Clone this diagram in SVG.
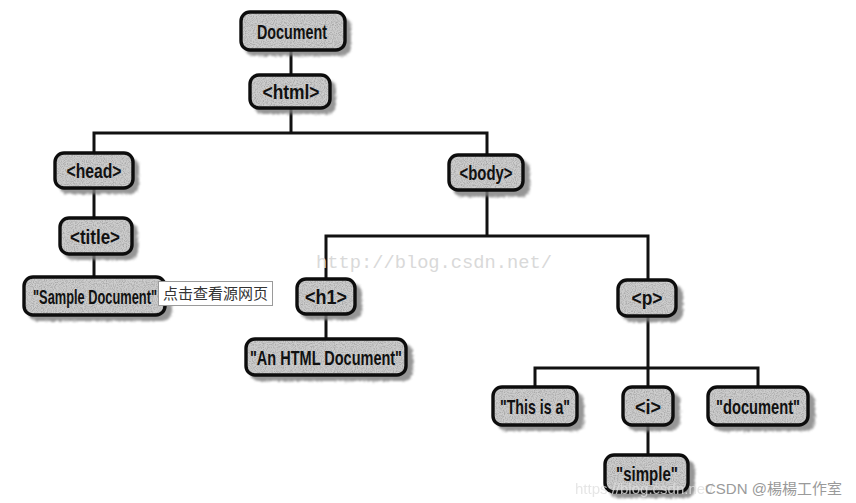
<svg xmlns="http://www.w3.org/2000/svg" width="856" height="503" viewBox="0 0 856 503">
<defs>
<filter id="fuzz" x="-20%" y="-30%" width="140%" height="160%">
<feTurbulence type="fractalNoise" baseFrequency="0.9" numOctaves="2" seed="3" result="n"/>
<feDisplacementMap in="SourceGraphic" in2="n" scale="5" xChannelSelector="R" yChannelSelector="G" result="d"/>
<feGaussianBlur in="d" stdDeviation="0.8"/>
</filter>
<filter id="grain" x="0" y="0" width="100%" height="100%">
<feTurbulence type="fractalNoise" baseFrequency="0.9" numOctaves="2" seed="7" result="n"/>
<feColorMatrix in="n" type="matrix" values="0 0 0 0 0.4  0 0 0 0 0.4  0 0 0 0 0.4  0 0 0 2.6 -1.0" result="g"/>
<feComposite in="g" in2="SourceGraphic" operator="in" result="gc"/>
<feMerge><feMergeNode in="SourceGraphic"/><feMergeNode in="gc"/></feMerge>
</filter>
</defs>
<style>
.sh{fill:#7d7d7d;filter:url(#fuzz);opacity:0.8}
.fl{fill:#cdcdcd;filter:url(#grain)}
.bx{fill:none;stroke:#0d0d0d;stroke-width:3.4}
.t{font-family:"Liberation Sans",Arial,sans-serif;font-weight:bold;font-size:21px;fill:#111;text-anchor:middle}
.c{stroke:#111;stroke-width:3;fill:none}
</style>
<rect width="856" height="503" fill="#fff"/>

<g id="connectors">
<line class="c" x1="291" y1="50" x2="291" y2="75"/>
<polyline class="c" points="94,153 94,133 487,133 487,155"/>
<line class="c" x1="291" y1="108" x2="291" y2="133"/>
<line class="c" x1="94" y1="188" x2="94" y2="218"/>
<line class="c" x1="94" y1="254" x2="94" y2="277"/>
<line class="c" x1="487" y1="190" x2="487" y2="236"/>
<polyline class="c" points="326,279 326,236 648,236 648,280"/>
<line class="c" x1="326" y1="314" x2="326" y2="339"/>
<line class="c" x1="648" y1="316" x2="648" y2="387"/>
<polyline class="c" points="535,387 535,368 758,368 758,387"/>
<line class="c" x1="648" y1="425" x2="648" y2="455"/>
</g>

<g id="n-document">
<rect class="sh" x="245" y="17" width="106" height="39" rx="9"/>
<rect class="fl" x="241" y="12" width="104" height="38" rx="9"/>
<rect class="bx" x="241" y="12" width="104" height="38" rx="9"/>
<text class="t" x="292" y="38.5" textLength="70" lengthAdjust="spacingAndGlyphs">Document</text>
</g>
<g id="n-html">
<rect class="sh" x="254" y="80" width="82" height="34" rx="9"/>
<rect class="fl" x="250" y="75" width="80" height="33" rx="9"/>
<rect class="bx" x="250" y="75" width="80" height="33" rx="9"/>
<text class="t" x="291" y="99" textLength="57" lengthAdjust="spacingAndGlyphs">&lt;html&gt;</text>
</g>
<g id="n-head">
<rect class="sh" x="59" y="158" width="80" height="36" rx="9"/>
<rect class="fl" x="55" y="153" width="78" height="35" rx="9"/>
<rect class="bx" x="55" y="153" width="78" height="35" rx="9"/>
<text class="t" x="94" y="178" textLength="55" lengthAdjust="spacingAndGlyphs">&lt;head&gt;</text>
</g>
<g id="n-title">
<rect class="sh" x="64" y="223" width="74" height="37" rx="9"/>
<rect class="fl" x="60" y="218" width="72" height="36" rx="9"/>
<rect class="bx" x="60" y="218" width="72" height="36" rx="9"/>
<text class="t" x="95" y="243.5" textLength="50" lengthAdjust="spacingAndGlyphs">&lt;title&gt;</text>
</g>
<g id="n-sample">
<rect class="sh" x="28" y="282" width="144" height="39" rx="9"/>
<rect class="fl" x="24" y="277" width="141" height="38" rx="9"/>
<rect class="bx" x="24" y="277" width="141" height="38" rx="9"/>
<text class="t" x="95" y="303.5" textLength="124" lengthAdjust="spacingAndGlyphs">"Sample Document"</text>
</g>
<g id="n-body">
<rect class="sh" x="453" y="160" width="77" height="37" rx="9"/>
<rect class="fl" x="449" y="155" width="74" height="35" rx="9"/>
<rect class="bx" x="449" y="155" width="74" height="35" rx="9"/>
<text class="t" x="486" y="180" textLength="53" lengthAdjust="spacingAndGlyphs">&lt;body&gt;</text>
</g>
<g id="n-h1">
<rect class="sh" x="301" y="284" width="61" height="36" rx="9"/>
<rect class="fl" x="297" y="279" width="58" height="35" rx="9"/>
<rect class="bx" x="297" y="279" width="58" height="35" rx="9"/>
<text class="t" x="326" y="304" textLength="42" lengthAdjust="spacingAndGlyphs">&lt;h1&gt;</text>
</g>
<g id="n-anhtml">
<rect class="sh" x="250" y="344" width="163" height="37" rx="9"/>
<rect class="fl" x="246" y="339" width="160" height="36" rx="9"/>
<rect class="bx" x="246" y="339" width="160" height="36" rx="9"/>
<text class="t" x="326" y="364.5" textLength="152" lengthAdjust="spacingAndGlyphs">"An HTML Document"</text>
</g>
<g id="n-p">
<rect class="sh" x="622" y="285" width="61" height="37" rx="9"/>
<rect class="fl" x="618" y="280" width="58" height="36" rx="9"/>
<rect class="bx" x="618" y="280" width="58" height="36" rx="9"/>
<text class="t" x="647" y="305" textLength="31" lengthAdjust="spacingAndGlyphs">&lt;p&gt;</text>
</g>
<g id="n-thisisa">
<rect class="sh" x="497" y="392" width="87" height="39" rx="9"/>
<rect class="fl" x="493" y="387" width="84" height="38" rx="9"/>
<rect class="bx" x="493" y="387" width="84" height="38" rx="9"/>
<text class="t" x="535" y="413.5" textLength="70" lengthAdjust="spacingAndGlyphs">"This is a"</text>
</g>
<g id="n-i">
<rect class="sh" x="627" y="392" width="53" height="39" rx="9"/>
<rect class="fl" x="623" y="387" width="50" height="38" rx="9"/>
<rect class="bx" x="623" y="387" width="50" height="38" rx="9"/>
<text class="t" x="648" y="413.5" textLength="26" lengthAdjust="spacingAndGlyphs">&lt;i&gt;</text>
</g>
<g id="n-docword">
<rect class="sh" x="712" y="392" width="103" height="39" rx="9"/>
<rect class="fl" x="708" y="387" width="100" height="38" rx="9"/>
<rect class="bx" x="708" y="387" width="100" height="38" rx="9"/>
<text class="t" x="758" y="413.5" textLength="84" lengthAdjust="spacingAndGlyphs">"document"</text>
</g>
<g id="n-simple">
<rect class="sh" x="609" y="460" width="86" height="38" rx="9"/>
<rect class="fl" x="605" y="455" width="83" height="37" rx="9"/>
<rect class="bx" x="605" y="455" width="83" height="37" rx="9"/>
<text class="t" x="647" y="481" textLength="62" lengthAdjust="spacingAndGlyphs">"simple"</text>
</g>

<g id="watermarks">
<text x="316" y="268" font-family="Liberation Mono,monospace" font-size="19" fill="#d9d9d9" textLength="236" lengthAdjust="spacingAndGlyphs">http://blog.csdn.net/</text>
<text x="575" y="494" font-family="Liberation Sans,Arial,sans-serif" font-size="15" fill="#e0e0e0" opacity="0.8">https://blog.csdn.net/</text>
<text x="705" y="494" font-family="Liberation Sans,'Noto Sans CJK TC',sans-serif" font-size="15" fill="#9a9a9a">CSDN @楊楊工作室</text>
</g>

<g id="tooltip">
<rect x="158.5" y="281.5" width="114" height="24" fill="#fff" stroke="#9a9a9a" stroke-width="1"/>
<text x="163" y="299" font-family="'Noto Sans CJK SC',sans-serif" font-size="15" fill="#333">点击查看源网页</text>
</g>
</svg>
